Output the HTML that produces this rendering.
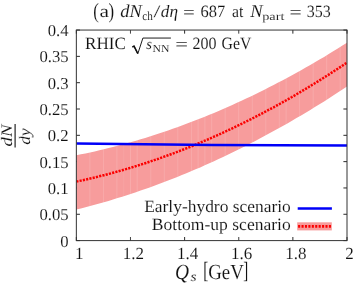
<!DOCTYPE html>
<html><head><meta charset="utf-8"><style>
html,body{margin:0;padding:0;background:#fff;}
svg{display:block;will-change:transform;opacity:0.999}
text{font-family:"Liberation Serif",serif;fill:#111;stroke:#fff;stroke-width:0.1px;paint-order:fill stroke;text-rendering:geometricPrecision}
.i{font-style:italic}
</style></head><body>
<svg width="354" height="283" viewBox="0 0 354 283">
<rect width="354" height="283" fill="#fff"/>
<defs><clipPath id="c"><rect x="76.35" y="30.05" width="270.65" height="210.54999999999998"/></clipPath></defs>

<line x1="76.35" y1="240.60" x2="79.94999999999999" y2="240.60" stroke="#111" stroke-width="0.9"/>
<line x1="347.0" y1="240.60" x2="343.4" y2="240.60" stroke="#111" stroke-width="0.9"/>
<text x="68.6" y="246.50" font-size="16.7" text-anchor="end">0</text>
<line x1="76.35" y1="214.28" x2="79.94999999999999" y2="214.28" stroke="#111" stroke-width="0.9"/>
<line x1="347.0" y1="214.28" x2="343.4" y2="214.28" stroke="#111" stroke-width="0.9"/>
<text x="68.6" y="220.18" font-size="16.7" text-anchor="end">0.05</text>
<line x1="76.35" y1="187.96" x2="79.94999999999999" y2="187.96" stroke="#111" stroke-width="0.9"/>
<line x1="347.0" y1="187.96" x2="343.4" y2="187.96" stroke="#111" stroke-width="0.9"/>
<text x="68.6" y="193.86" font-size="16.7" text-anchor="end">0.1</text>
<line x1="76.35" y1="161.64" x2="79.94999999999999" y2="161.64" stroke="#111" stroke-width="0.9"/>
<line x1="347.0" y1="161.64" x2="343.4" y2="161.64" stroke="#111" stroke-width="0.9"/>
<text x="68.6" y="167.54" font-size="16.7" text-anchor="end">0.15</text>
<line x1="76.35" y1="135.32" x2="79.94999999999999" y2="135.32" stroke="#111" stroke-width="0.9"/>
<line x1="347.0" y1="135.32" x2="343.4" y2="135.32" stroke="#111" stroke-width="0.9"/>
<text x="68.6" y="141.22" font-size="16.7" text-anchor="end">0.2</text>
<line x1="76.35" y1="109.01" x2="79.94999999999999" y2="109.01" stroke="#111" stroke-width="0.9"/>
<line x1="347.0" y1="109.01" x2="343.4" y2="109.01" stroke="#111" stroke-width="0.9"/>
<text x="68.6" y="114.91" font-size="16.7" text-anchor="end">0.25</text>
<line x1="76.35" y1="82.69" x2="79.94999999999999" y2="82.69" stroke="#111" stroke-width="0.9"/>
<line x1="347.0" y1="82.69" x2="343.4" y2="82.69" stroke="#111" stroke-width="0.9"/>
<text x="68.6" y="88.59" font-size="16.7" text-anchor="end">0.3</text>
<line x1="76.35" y1="56.37" x2="79.94999999999999" y2="56.37" stroke="#111" stroke-width="0.9"/>
<line x1="347.0" y1="56.37" x2="343.4" y2="56.37" stroke="#111" stroke-width="0.9"/>
<text x="68.6" y="62.27" font-size="16.7" text-anchor="end">0.35</text>
<line x1="76.35" y1="30.05" x2="79.94999999999999" y2="30.05" stroke="#111" stroke-width="0.9"/>
<line x1="347.0" y1="30.05" x2="343.4" y2="30.05" stroke="#111" stroke-width="0.9"/>
<text x="68.6" y="35.95" font-size="16.7" text-anchor="end">0.4</text>
<line x1="76.35" y1="240.6" x2="76.35" y2="237.0" stroke="#111" stroke-width="0.9"/>
<line x1="76.35" y1="30.05" x2="76.35" y2="33.65" stroke="#111" stroke-width="0.9"/>
<text x="79.35" y="259" font-size="17" text-anchor="middle">1</text>
<line x1="130.48" y1="240.6" x2="130.48" y2="237.0" stroke="#111" stroke-width="0.9"/>
<line x1="130.48" y1="30.05" x2="130.48" y2="33.65" stroke="#111" stroke-width="0.9"/>
<text x="133.48" y="259" font-size="17" text-anchor="middle">1.2</text>
<line x1="184.61" y1="240.6" x2="184.61" y2="237.0" stroke="#111" stroke-width="0.9"/>
<line x1="184.61" y1="30.05" x2="184.61" y2="33.65" stroke="#111" stroke-width="0.9"/>
<text x="187.61" y="259" font-size="17" text-anchor="middle">1.4</text>
<line x1="238.74" y1="240.6" x2="238.74" y2="237.0" stroke="#111" stroke-width="0.9"/>
<line x1="238.74" y1="30.05" x2="238.74" y2="33.65" stroke="#111" stroke-width="0.9"/>
<text x="241.74" y="259" font-size="17" text-anchor="middle">1.6</text>
<line x1="292.87" y1="240.6" x2="292.87" y2="237.0" stroke="#111" stroke-width="0.9"/>
<line x1="292.87" y1="30.05" x2="292.87" y2="33.65" stroke="#111" stroke-width="0.9"/>
<text x="295.87" y="259" font-size="17" text-anchor="middle">1.8</text>
<line x1="347.00" y1="240.6" x2="347.00" y2="237.0" stroke="#111" stroke-width="0.9"/>
<line x1="347.00" y1="30.05" x2="347.00" y2="33.65" stroke="#111" stroke-width="0.9"/>
<text x="349.50" y="259" font-size="17" text-anchor="middle">2</text>
<g clip-path="url(#c)">
<path d="M76.3,155.2 L80.9,154.3 L85.5,153.4 L90.1,152.4 L94.7,151.4 L99.3,150.3 L103.9,149.2 L108.5,148.1 L113.0,147.0 L117.6,145.8 L122.2,144.5 L126.8,143.3 L131.4,142.0 L136.0,140.7 L140.6,139.3 L145.2,137.9 L149.7,136.5 L154.3,135.0 L158.9,133.5 L163.5,132.0 L168.1,130.4 L172.7,128.8 L177.3,127.2 L181.9,125.5 L186.4,123.8 L191.0,122.1 L195.6,120.3 L200.2,118.5 L204.8,116.7 L209.4,114.8 L214.0,112.9 L218.6,111.0 L223.1,109.0 L227.7,107.0 L232.3,104.9 L236.9,102.8 L241.5,100.7 L246.1,98.6 L250.7,96.4 L255.3,94.2 L259.8,91.9 L264.4,89.7 L269.0,87.3 L273.6,85.0 L278.2,82.6 L282.8,80.2 L287.4,77.7 L292.0,75.2 L296.5,72.7 L301.1,70.2 L305.7,67.6 L310.3,64.9 L314.9,62.3 L319.5,59.6 L324.1,56.9 L328.7,54.1 L333.2,51.3 L337.8,48.5 L342.4,45.6 L347.0,42.7 L347.0,86.6 L342.4,89.6 L337.8,92.6 L333.2,95.6 L328.7,98.5 L324.1,101.4 L319.5,104.3 L314.9,107.1 L310.3,109.9 L305.7,112.7 L301.1,115.4 L296.5,118.1 L292.0,120.8 L287.4,123.4 L282.8,126.0 L278.2,128.6 L273.6,131.1 L269.0,133.6 L264.4,136.1 L259.8,138.6 L255.3,141.0 L250.7,143.3 L246.1,145.7 L241.5,148.0 L236.9,150.3 L232.3,152.5 L227.7,154.7 L223.1,156.9 L218.6,159.1 L214.0,161.2 L209.4,163.3 L204.8,165.3 L200.2,167.4 L195.6,169.3 L191.0,171.3 L186.4,173.2 L181.9,175.1 L177.3,177.0 L172.7,178.8 L168.1,180.6 L163.5,182.3 L158.9,184.1 L154.3,185.8 L149.7,187.4 L145.2,189.1 L140.6,190.6 L136.0,192.2 L131.4,193.7 L126.8,195.2 L122.2,196.7 L117.6,198.1 L113.0,199.5 L108.5,200.9 L103.9,202.2 L99.3,203.6 L94.7,204.8 L90.1,206.1 L85.5,207.3 L80.9,208.4 L76.3,209.6Z" fill="#f79c9c"/>
<line x1="89.9" y1="30.05" x2="89.9" y2="240.6" stroke="#fff" stroke-width="0.7" opacity="0.2"/>
<line x1="103.4" y1="30.05" x2="103.4" y2="240.6" stroke="#fff" stroke-width="0.7" opacity="0.2"/>
<line x1="116.9" y1="30.05" x2="116.9" y2="240.6" stroke="#fff" stroke-width="0.7" opacity="0.2"/>
<line x1="130.5" y1="30.05" x2="130.5" y2="240.6" stroke="#fff" stroke-width="0.7" opacity="0.2"/>
<line x1="137.2" y1="30.05" x2="137.2" y2="240.6" stroke="#fff" stroke-width="0.7" opacity="0.2"/>
<line x1="150.8" y1="30.05" x2="150.8" y2="240.6" stroke="#fff" stroke-width="0.7" opacity="0.2"/>
<line x1="164.3" y1="30.05" x2="164.3" y2="240.6" stroke="#fff" stroke-width="0.7" opacity="0.2"/>
<line x1="177.8" y1="30.05" x2="177.8" y2="240.6" stroke="#fff" stroke-width="0.7" opacity="0.2"/>
<line x1="191.4" y1="30.05" x2="191.4" y2="240.6" stroke="#fff" stroke-width="0.7" opacity="0.2"/>
<line x1="198.1" y1="30.05" x2="198.1" y2="240.6" stroke="#fff" stroke-width="0.7" opacity="0.2"/>
<line x1="204.9" y1="30.05" x2="204.9" y2="240.6" stroke="#fff" stroke-width="0.7" opacity="0.2"/>
<line x1="211.7" y1="30.05" x2="211.7" y2="240.6" stroke="#fff" stroke-width="0.7" opacity="0.2"/>
<line x1="225.2" y1="30.05" x2="225.2" y2="240.6" stroke="#fff" stroke-width="0.7" opacity="0.2"/>
<line x1="238.7" y1="30.05" x2="238.7" y2="240.6" stroke="#fff" stroke-width="0.7" opacity="0.2"/>
<line x1="252.3" y1="30.05" x2="252.3" y2="240.6" stroke="#fff" stroke-width="0.7" opacity="0.2"/>
<line x1="265.8" y1="30.05" x2="265.8" y2="240.6" stroke="#fff" stroke-width="0.7" opacity="0.2"/>
<line x1="279.3" y1="30.05" x2="279.3" y2="240.6" stroke="#fff" stroke-width="0.7" opacity="0.2"/>
<line x1="286.1" y1="30.05" x2="286.1" y2="240.6" stroke="#fff" stroke-width="0.7" opacity="0.2"/>
<line x1="299.6" y1="30.05" x2="299.6" y2="240.6" stroke="#fff" stroke-width="0.7" opacity="0.2"/>
<line x1="313.2" y1="30.05" x2="313.2" y2="240.6" stroke="#fff" stroke-width="0.7" opacity="0.2"/>
<line x1="326.7" y1="30.05" x2="326.7" y2="240.6" stroke="#fff" stroke-width="0.7" opacity="0.2"/>
<line x1="340.2" y1="30.05" x2="340.2" y2="240.6" stroke="#fff" stroke-width="0.7" opacity="0.2"/>
<line x1="123.7" y1="30.05" x2="123.7" y2="240.6" stroke="#fff" stroke-width="0.7" opacity="0.1"/>
<path d="M76.3,181.6 L80.9,180.6 L85.5,179.6 L90.1,178.5 L94.7,177.5 L99.3,176.3 L103.9,175.2 L108.5,174.0 L113.0,172.8 L117.6,171.5 L122.2,170.2 L126.8,168.9 L131.4,167.5 L136.0,166.1 L140.6,164.7 L145.2,163.2 L149.7,161.7 L154.3,160.1 L158.9,158.6 L163.5,156.9 L168.1,155.3 L172.7,153.6 L177.3,151.9 L181.9,150.1 L186.4,148.3 L191.0,146.5 L195.6,144.6 L200.2,142.7 L204.8,140.7 L209.4,138.8 L214.0,136.7 L218.6,134.7 L223.1,132.6 L227.7,130.5 L232.3,128.3 L236.9,126.1 L241.5,123.9 L246.1,121.6 L250.7,119.3 L255.3,117.0 L259.8,114.6 L264.4,112.2 L269.0,109.7 L273.6,107.3 L278.2,104.7 L282.8,102.2 L287.4,99.6 L292.0,97.0 L296.5,94.3 L301.1,91.6 L305.7,88.9 L310.3,86.1 L314.9,83.3 L319.5,80.4 L324.1,77.5 L328.7,74.6 L333.2,71.7 L337.8,68.7 L342.4,65.7 L347.0,62.6" fill="none" stroke="#fb0000" stroke-width="2.5" stroke-dasharray="2.15 1.2"/>
<path d="M76.35,143.5 Q211.7,145.5 347.0,145.6" fill="none" stroke="#0000f8" stroke-width="2.5"/>
</g>
<rect x="76.35" y="30.05" width="270.65" height="210.54999999999998" fill="none" stroke="#333" stroke-width="1.0"/>
<text x="93.2" y="17.6" font-size="21.5" textLength="5.6" lengthAdjust="spacingAndGlyphs">(</text>
<text x="99.4" y="17" font-size="17.6" textLength="9.5" lengthAdjust="spacingAndGlyphs">a</text>
<text x="108.4" y="17.6" font-size="21.5" textLength="5.6" lengthAdjust="spacingAndGlyphs">)</text>
<text x="120.2" y="17" font-size="18.0" class="i" textLength="21.6" lengthAdjust="spacingAndGlyphs">dN</text>
<text x="142.2" y="19.6" font-size="12.2" textLength="10.6" lengthAdjust="spacingAndGlyphs">ch</text>
<text x="153.6" y="17" font-size="17.3" textLength="6.9" lengthAdjust="spacingAndGlyphs">/</text>
<text x="160.8" y="17" font-size="17.3" class="i" textLength="17.2" lengthAdjust="spacingAndGlyphs">dη</text>
<text x="183.0" y="18.1" font-size="17.3" textLength="11.8" lengthAdjust="spacingAndGlyphs">=</text>
<text x="200.5" y="17" font-size="17.3" textLength="24.7" lengthAdjust="spacingAndGlyphs">687</text>
<text x="232.0" y="17" font-size="17.3" textLength="11.4" lengthAdjust="spacingAndGlyphs">at</text>
<text x="250.2" y="17" font-size="18.2" class="i" textLength="12.4" lengthAdjust="spacingAndGlyphs">N</text>
<text x="262.2" y="19.6" font-size="11.2" textLength="22.2" lengthAdjust="spacingAndGlyphs">part</text>
<text x="289.4" y="18.1" font-size="17.3" textLength="12.2" lengthAdjust="spacingAndGlyphs">=</text>
<text x="306.8" y="17" font-size="17.3" textLength="24.0" lengthAdjust="spacingAndGlyphs">353</text>
<text x="85.0" y="49.2" font-size="17.3" textLength="40.8" lengthAdjust="spacingAndGlyphs">RHIC</text>
<path d="M132.3,47.2 L134.0,46.1 L137.7,53.4" fill="none" stroke="#111" stroke-width="1.5" stroke-linejoin="miter"/>
<path d="M134.0,46.1 L137.8,53.8 L142.9,38.05 L170.9,38.05" fill="none" stroke="#111" stroke-width="0.95"/>
<text x="146.3" y="49.2" font-size="15.2" class="i" textLength="5.7" lengthAdjust="spacingAndGlyphs">s</text>
<text x="152.5" y="52" font-size="10.8" textLength="16.9" lengthAdjust="spacingAndGlyphs">NN</text>
<text x="175.2" y="50.3" font-size="17.3" textLength="12.8" lengthAdjust="spacingAndGlyphs">=</text>
<text x="192.6" y="49.2" font-size="17.3" textLength="24.0" lengthAdjust="spacingAndGlyphs">200</text>
<text x="221.6" y="49.2" font-size="17.3" textLength="29.8" lengthAdjust="spacingAndGlyphs">GeV</text>
<text x="144.2" y="212" font-size="17.3" textLength="146.6" lengthAdjust="spacingAndGlyphs">Early-hydro scenario</text>
<text x="151.8" y="229.8" font-size="17.3" textLength="139.0" lengthAdjust="spacingAndGlyphs">Bottom-up scenario</text>
<line x1="297.7" y1="208.4" x2="331.9" y2="208.4" stroke="#0000f8" stroke-width="2.5"/>
<rect x="297.2" y="222.3" width="34.6" height="8.1" fill="#f79c9c"/>
<line x1="298.1" y1="226.4" x2="331.9" y2="226.4" stroke="#fb0000" stroke-width="2.7" stroke-dasharray="2.1 1.32"/>
<text x="175.0" y="278.6" font-size="21.5" class="i" textLength="14.0" lengthAdjust="spacingAndGlyphs">Q</text>
<text x="190.5" y="281.4" font-size="13.6" class="i" textLength="6.1" lengthAdjust="spacingAndGlyphs">s</text>
<text x="203.2" y="278.4" font-size="23.4" textLength="5.0" lengthAdjust="spacingAndGlyphs">[</text>
<text x="208.2" y="278.6" font-size="21.5" textLength="35.6" lengthAdjust="spacingAndGlyphs">GeV</text>
<text x="243.2" y="278.4" font-size="23.4" textLength="5.0" lengthAdjust="spacingAndGlyphs">]</text>
<g transform="translate(0,135.5) rotate(-90)">
<text x="-10.9" y="11.6" font-size="16" class="i" textLength="21.8" lengthAdjust="spacingAndGlyphs">dN</text>
<line x1="-12.0" y1="15.1" x2="11.4" y2="15.1" stroke="#111" stroke-width="1.1"/>
<text x="-9.2" y="30.2" font-size="16" class="i" textLength="16.3" lengthAdjust="spacingAndGlyphs">dy</text>
</g>
</svg></body></html>
